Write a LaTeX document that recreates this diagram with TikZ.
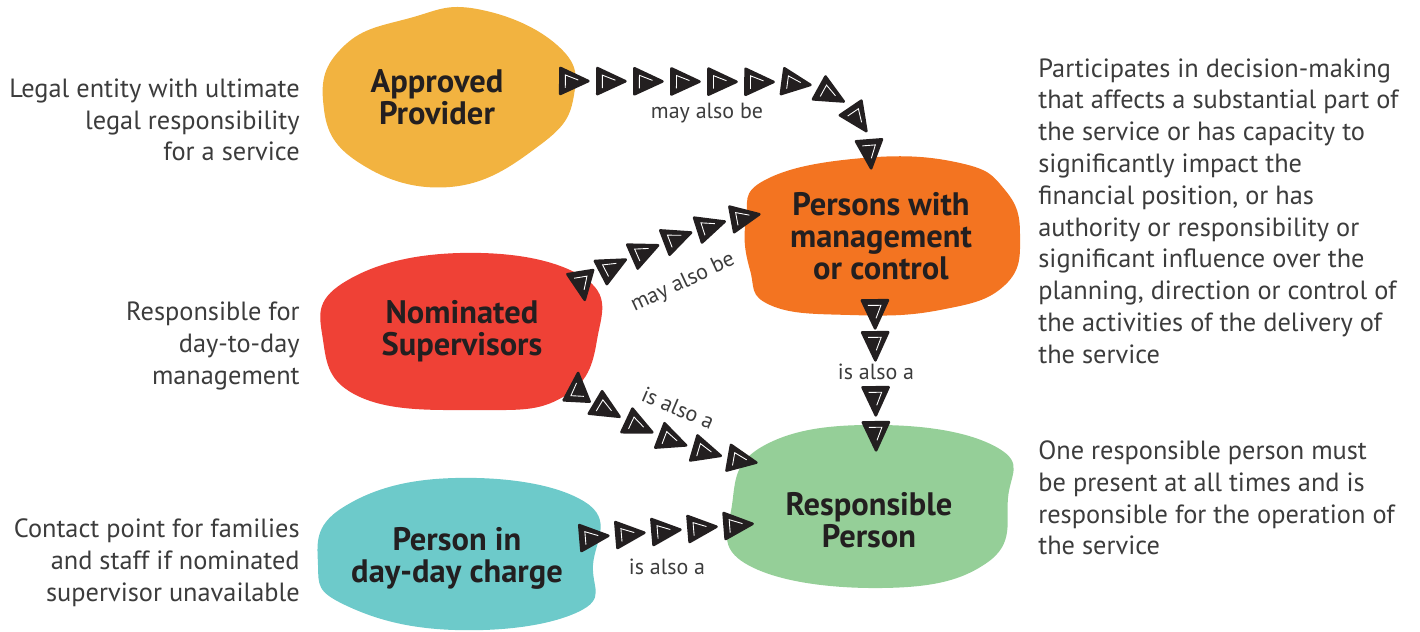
\documentclass[tikz,border=0pt]{standalone}
\usepackage{fontspec}
\setmainfont{PT Sans}
\usepackage{tikz}
\usetikzlibrary{calc, decorations.markings}

\definecolor{provider}{HTML}{F2B340}
\definecolor{management}{HTML}{F37421}
\definecolor{supervisor}{HTML}{EF4136}
\definecolor{responsible}{HTML}{95CF98}
\definecolor{incharge}{HTML}{6DCACA}
\definecolor{ink}{HTML}{231F20}
\definecolor{notegrey}{HTML}{3C3C3C}

% one hand-drawn looking arrow head of a chain
\newcommand{\arrowtri}[1][0]{%
  \begin{scope}[rotate=#1]
    \filldraw[fill=ink, draw=ink, line width=1.5pt, line join=round] (15,0) -- (-13,13) -- (-13,-13) -- cycle;
    \draw[white, line width=0.5pt] (-8,7) -- (-8,-6) -- (5,-1);
  \end{scope}}

\tikzset{
  blobtext/.style={font=\bfseries\fontsize{18.5}{18.2}\selectfont, text=ink, align=center, inner sep=0pt},
  note/.style={font=\fontsize{15}{18.1}\selectfont, text=notegrey, inner sep=0pt},
  linklabel/.style={font=\fontsize{12.5}{14}\selectfont, text=notegrey, inner sep=0pt},
  chainstep/.style={decorate, decoration={markings,
      mark=between positions 0 and 1 step #1 with {\arrowtri}}},
  backstep/.style 2 args={decorate, decoration={markings,
      mark=at position 0 with {\arrowtri[#1]},
      mark=between positions #2 and 1 step #2 with {\arrowtri}}}
}

\begin{document}
\begin{tikzpicture}[x=0.02cm, y=-0.02cm]
	\useasboundingbox (0,0) rectangle (1420,632);
	% blobs
	\fill[provider] plot[smooth cycle, tension=0.75] coordinates {(477,9) (557,45) (574,95) (540,145) (450,187) (355,160) (323,100) (345,45) (410,18)};
	\fill[management] plot[smooth cycle, tension=0.75] coordinates {(863,158) (960,163) (1005,190) (1020,235) (1005,285) (940,310) (850,315) (770,305) (750,270) (746,220) (765,180)};
	\fill[supervisor] plot[smooth cycle, tension=0.75] coordinates {(460,253) (583,277) (597,340) (563,397) (477,410) (360,397) (323,340) (343,283)};
	\fill[responsible] plot[smooth cycle, tension=0.75] coordinates {(882,425) (998,448) (1008,498) (988,562) (882,588) (748,565) (732,505) (765,445)};
	\fill[incharge] plot[smooth cycle, tension=0.75] coordinates {(455,478) (585,502) (593,565) (578,612) (455,630) (345,605) (318,565) (342,508)};
	% roles
	\node at (437,97) (ap) [blobtext, minimum width=5.44cm, minimum height=3.52cm] {Approved\\Provider};
	\node at (881,236) (pmc) [blobtext, minimum width=5.56cm, minimum height=3.12cm] {Persons with\\management\\or control};
	\node at (462,331) (ns) [blobtext, minimum width=5.4cm, minimum height=3.12cm] {Nominated\\Supervisors};
	\node at (869,520) (rp) [blobtext, minimum width=5.56cm, minimum height=3.8cm] {Responsible\\Person};
	\node at (457,558) (pdc) [blobtext, minimum width=5.44cm, minimum height=3.2cm] {Person in\\day-day charge};
	% notes
	\node at (300,120) (apnote) [note, anchor=east, align=right] {Legal entity with ultimate\\legal responsibility\\for a service};
	\node at (300,346) (nsnote) [note, anchor=east, align=right] {Responsible for\\day-to-day\\management};
	\node at (300,563) (pdcnote) [note, anchor=east, align=right] {Contact point for families\\and staff if nominated\\supervisor unavailable};
	\node at (1038,211) (pmcnote) [note, anchor=west, align=left] {Participates in decision-making\\that affects a substantial part of\\the service or has capacity to\\significantly impact the\\financial position, or has\\authority or responsibility or\\significant influence over the\\planning, direction or control of\\the activities of the delivery of\\the service};
	\node at (1038,498) (rpnote) [note, anchor=west, align=left] {One responsible person must\\be present at all times and is\\responsible for the operation of\\the service};
	% chains
	\path[chainstep=0.111] ($(ap.east)+(0,-16)$) -- ($(ap.east)+(212,-15)$)
		.. controls ($(ap.east)+(258,-13)$) and ($(pmc.north)+(-14,-45)$) .. ($(pmc.north)+(-11,-4)$);
	\path[backstep={-120}{0.1999}] ($(ns.east)+(-15,-46)$)
		.. controls ($(ns.east)+(12,-68)$) and ($(pmc.west)+(-40,-11)$) .. ($(pmc.west)+(3,-19)$);
	\path[backstep={130}{0.1999}] ($(ns.east)+(-20,57)$)
		.. controls ($(ns.east)+(10,85)$) and ($(rp.west)+(-45,-70)$) .. ($(rp.west)+(12,-60)$);
	\path[decorate, decoration={markings,
			mark=at position 0 with {\arrowtri},
			mark=at position 0.64cm with {\arrowtri},
			mark=at position 1.74cm with {\arrowtri},
			mark=at position 2.44cm with {\arrowtri}}]
		($(pmc.south)+(-6,-1)$) -- ($(rp.north)+(7,15)$);
	\path[chainstep=0.2499] ($(pdc.east)+(0,-21)$)
		.. controls ($(pdc.east)+(60,-26)$) and ($(rp.west)+(-30,8)$) .. ($(rp.west)+(8,5)$);
	% chain labels
	\node at (707,113) (l1) [linklabel] {may also be};
	\node at (683,283) (l2) [linklabel, rotate=25] {may also be};
	\node at (678,408) (l3) [linklabel, rotate=-23] {is also a};
	\node at (876,372) (l4) [linklabel] {is also a};
	\node at (667,567) (l5) [linklabel] {is also a};
\end{tikzpicture}
\end{document}
